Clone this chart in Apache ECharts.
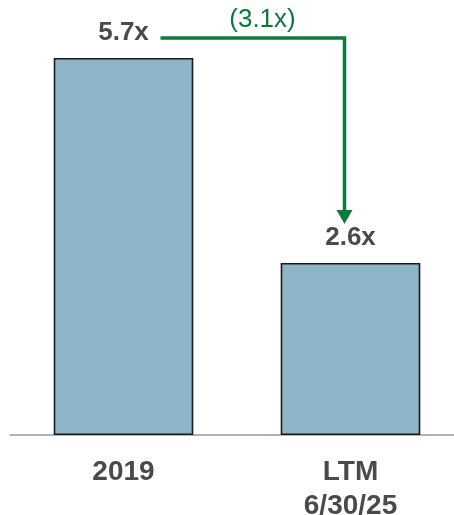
<!DOCTYPE html>
<html>
<head>
<meta charset="utf-8">
<script src="https://cdn.jsdelivr.net/npm/echarts@6/dist/echarts.min.js"></script>
<style>
  html, body { margin: 0; padding: 0; background: #fff; overflow: hidden; }
  #chart { width: 454px; height: 515px; }
</style>
</head>
<body>
<div id="chart"></div>
<script>
  // chart data
  var categories = ['2019', 'LTM\n6/30/25'];
  var leverage = [5.7, 2.6];
  var changeLabel = '(3.1x)';
  var arrowLevel = 6.0; // height of the connector line, in axis units

  var chart = echarts.init(document.getElementById('chart'));

  chart.setOption({
    backgroundColor: '#ffffff',
    animation: false,
    grid: {
      left: 10,
      right: -10,
      top: 5,
      bottom: 80,
      outerBoundsMode: 'none',
      containLabel: false
    },
    xAxis: {
      type: 'category',
      data: categories,
      axisLine: {
        lineStyle: { color: '#999999', width: 1.5 }
      },
      axisTick: { show: false },
      axisLabel: {
        margin: 20,
        fontFamily: 'Arial, Liberation Sans, sans-serif',
        fontSize: 28,
        fontWeight: 'bold',
        lineHeight: 34,
        color: '#4a4a4a'
      }
    },
    yAxis: {
      type: 'value',
      min: 0,
      max: 6.5,
      show: false,
      splitLine: { show: false }
    },
    series: [{
      type: 'bar',
      data: leverage,
      barWidth: '61.5%',
      itemStyle: {
        color: '#8DB5C7',
        borderColor: '#1a1a1a',
        borderWidth: 1.6
      },
      label: {
        show: true,
        position: 'top',
        distance: 12,
        formatter: function (p) { return p.value.toFixed(1) + 'x'; },
        fontFamily: 'Arial, Liberation Sans, sans-serif',
        fontSize: 26,
        fontWeight: 'bold',
        color: '#4a4a4a'
      }
    }]
  });

  // green change arrow, positioned from the axis scales
  function drawArrow() {
    var a = chart.convertToPixel({ seriesIndex: 0 }, [0, arrowLevel]);
    var b = chart.convertToPixel({ seriesIndex: 0 }, [1, arrowLevel]);
    var top2 = chart.convertToPixel({ seriesIndex: 0 }, [1, leverage[1]]);
    var x0 = a[0] + 37;
    var x1 = b[0] - 6;
    var y = a[1];
    var tipY = top2[1] - 39;
    var green = '#0B7A3B';
    chart.setOption({
      graphic: [{
        type: 'polyline',
        shape: { points: [[x0, y], [x1, y], [x1, tipY - 12]] },
        style: { stroke: green, lineWidth: 3.5, fill: null }
      }, {
        type: 'polygon',
        shape: { points: [[x1 - 8, tipY - 14], [x1 + 8, tipY - 14], [x1, tipY]] },
        style: { fill: green }
      }, {
        type: 'text',
        x: (x0 + x1) / 2 + 10,
        y: y - 18,
        style: {
          text: changeLabel,
          fill: green,
          font: '26px Arial, "Liberation Sans", sans-serif',
          align: 'center',
          verticalAlign: 'middle'
        }
      }]
    });
  }
  drawArrow();
</script>
</body>
</html>
